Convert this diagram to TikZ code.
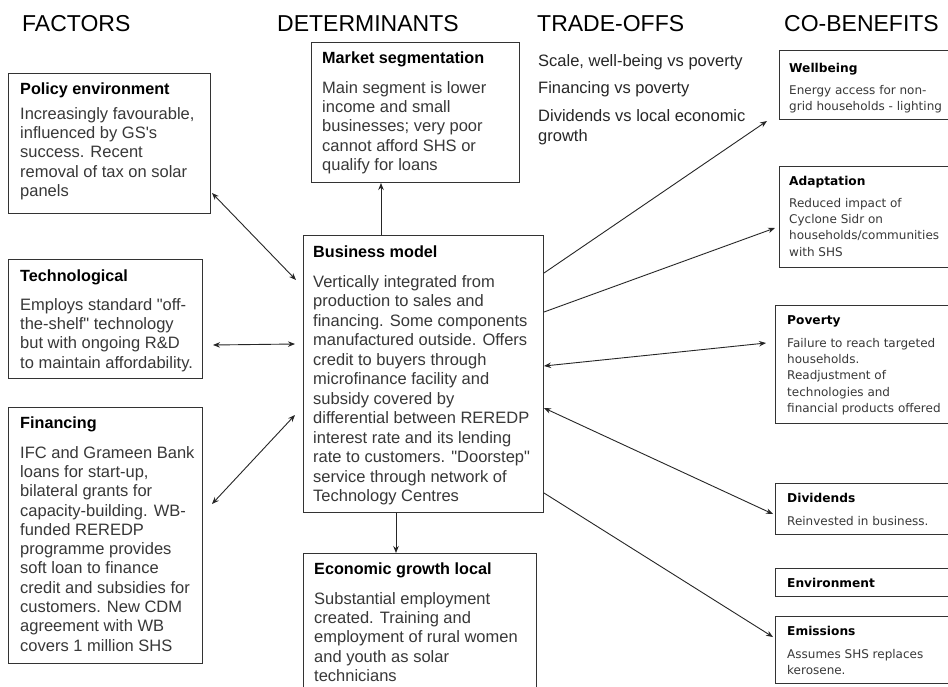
\documentclass[tikz,border=0pt]{standalone}
\usepackage{fontspec}
\setmainfont{Liberation Sans}[Ligatures=TeXOff]
\newfontfamily\smallsans{DejaVu Sans}[Ligatures=TeXOff]
\usetikzlibrary{arrows.meta,calc}

\tikzset{
  frame/.style={draw=black!80, line width=1pt, anchor=north west, inner sep=0pt, fill=white},
  head/.style={anchor=base west, inner sep=0pt, font=\fontsize{23pt}{27pt}\selectfont},
  ttl/.style={anchor=base west, inner sep=0pt, font=\fontsize{16.2pt}{19pt}\selectfont\bfseries},
  txt/.style={anchor=north west, inner sep=0pt, align=left, text=black!78, font=\fontsize{16.5pt}{19.3pt}\selectfont},
  sttl/.style={anchor=base west, inner sep=0pt, font=\smallsans\fontsize{12.2pt}{15pt}\selectfont\bfseries},
  stxt/.style={anchor=north west, inner sep=0pt, align=left, text=black!78, font=\smallsans\fontsize{12pt}{16.3pt}\selectfont},
  tip/.tip={Stealth[length=7pt,width=5.5pt]},
  link/.style={draw=black!85, line width=0.9pt, -tip},
  dlink/.style={draw=black!85, line width=0.9pt, tip-tip},
}

\begin{document}
\begin{tikzpicture}[x=1pt, y=-1pt]
  \path[use as bounding box, fill=white] (0,0) rectangle (948,686);
  \clip (0,0) rectangle (948,686);

  % column headings
  \node[head] (hF) at (22,31) {FACTORS};
  \node[head] (hD) at (277,31) {DETERMINANTS};
  \node[head] (hT) at (537,31) {TRADE-OFFS};
  \node[head] (hC) at (784,31) {CO-BENEFITS};

  % factors
  \node[frame, minimum width=202pt, minimum height=140pt] (pol) at (8,73) {};
  \node[ttl] (polT) at (20,94) {Policy environment};
  \node[txt] (polB) at (20,107) {Increasingly favourable,\\influenced by GS's\\success. Recent\\removal of tax on solar\\panels};

  \node[frame, minimum width=194pt, minimum height=119pt] (tech) at (8,259) {};
  \node[ttl] (techT) at (20,281) {Technological};
  \node[txt] (techB) at (20,298) {Employs standard "off-\\the-shelf" technology\\but with ongoing R\&D\\to maintain affordability.};

  \node[frame, minimum width=194pt, minimum height=256pt] (fin) at (8,407) {};
  \node[ttl] (finT) at (20,428) {Financing};
  \node[txt] (finB) at (20,446) {IFC and Grameen Bank\\loans for start-up,\\bilateral grants for\\capacity-building. WB-\\funded REREDP\\programme provides\\soft loan to finance\\credit and subsidies for\\customers. New CDM\\agreement with WB\\covers 1 million SHS};

  % determinants
  \node[frame, minimum width=208pt, minimum height=140pt] (mkt) at (311,42) {};
  \node[ttl] (mktT) at (322,63) {Market segmentation};
  \node[txt] (mktB) at (322,81) {Main segment is lower\\income and small\\businesses; very poor\\cannot afford SHS or\\qualify for loans};

  \node[frame, minimum width=240pt, minimum height=277pt] (bm) at (303,235) {};
  \node[ttl] (bmT) at (313,257) {Business model};
  \node[txt, font=\fontsize{16.5pt}{19.5pt}\selectfont] (bmB) at (313,275) {Vertically integrated from\\production to sales and\\financing. Some components\\manufactured outside. Offers\\credit to buyers through\\microfinance facility and\\subsidy covered by\\differential between REREDP\\interest rate and its lending\\rate to customers. "Doorstep"\\service through network of\\Technology Centres};

  \node[frame, minimum width=233pt, minimum height=150pt] (eco) at (303,553) {};
  \node[ttl] (ecoT) at (314,574) {Economic growth local};
  \node[txt] (ecoB) at (314,592) {Substantial employment\\created. Training and\\employment of rural women\\and youth as solar\\technicians};

  % trade-offs
  \node[txt, text=black!85] (trade) at (538,54) {Scale, well-being vs poverty\\[8pt]Financing vs poverty\\[9pt]Dividends vs local economic\\growth};

  % co-benefits
  \node[frame, minimum width=181pt, minimum height=69pt] (wb) at (779,50) {};
  \node[sttl] (wbT) at (789,72) {Wellbeing};
  \node[stxt] (wbB) at (789,85) {Energy access for non-\\grid households - lighting};

  \node[frame, minimum width=181pt, minimum height=101pt] (ad) at (779,166) {};
  \node[sttl] (adT) at (789,185) {Adaptation};
  \node[stxt] (adB) at (789,198) {Reduced impact of\\Cyclone Sidr on\\households/communities\\with SHS};

  \node[frame, minimum width=185pt, minimum height=118pt] (pov) at (775,305) {};
  \node[sttl] (povT) at (787,324) {Poverty};
  \node[stxt] (povB) at (787,338) {Failure to reach targeted\\households.\\Readjustment of\\technologies and\\financial products offered};

  \node[frame, minimum width=185pt, minimum height=51pt] (div) at (775,483) {};
  \node[sttl] (divT) at (787,502) {Dividends};
  \node[stxt] (divB) at (787,516) {Reinvested in business.};

  \node[frame, minimum width=185pt, minimum height=28pt] (env) at (775,568) {};
  \node[sttl] (envT) at (787,587) {Environment};

  \node[frame, minimum width=185pt, minimum height=67pt] (emi) at (775,616) {};
  \node[sttl] (emiT) at (787,635) {Emissions};
  \node[stxt] (emiB) at (787,649) {Assumes SHS replaces\\kerosene.};

  % connectors
  \draw[dlink] ($(pol.south east)+(1,-21)$) -- ($(bm.north west)+(-7,45)$);
  \draw[dlink] ($(tech.south east)+(10,-34)$) -- ($(bm.north west)+(-8,109)$);
  \draw[dlink] ($(fin.north east)+(9,97)$) -- ($(bm.north west)+(-8,180)$);
  \draw[link] ($(bm.north west)+(78,0)$) -- ($(mkt.south west)+(70,0)$);
  \draw[link] ($(bm.south west)+(93,0)$) -- ($(eco.north west)+(93,0)$);
  \draw[link] ($(bm.north east)+(0,38)$) -- ($(wb.south west)+(-12,1)$);
  \draw[link] ($(bm.north east)+(0,77)$) -- ($(ad.north west)+(-4,62)$);
  \draw[dlink] ($(bm.north east)+(0,131)$) -- ($(pov.north west)+(-9,38)$);
  \draw[dlink] ($(bm.north east)+(0,173)$) -- ($(div.south west)+(-2,-21)$);
  \draw[link] ($(bm.south east)+(0,-20)$) -- ($(emi.north west)+(-2,21)$);
\end{tikzpicture}
\end{document}
